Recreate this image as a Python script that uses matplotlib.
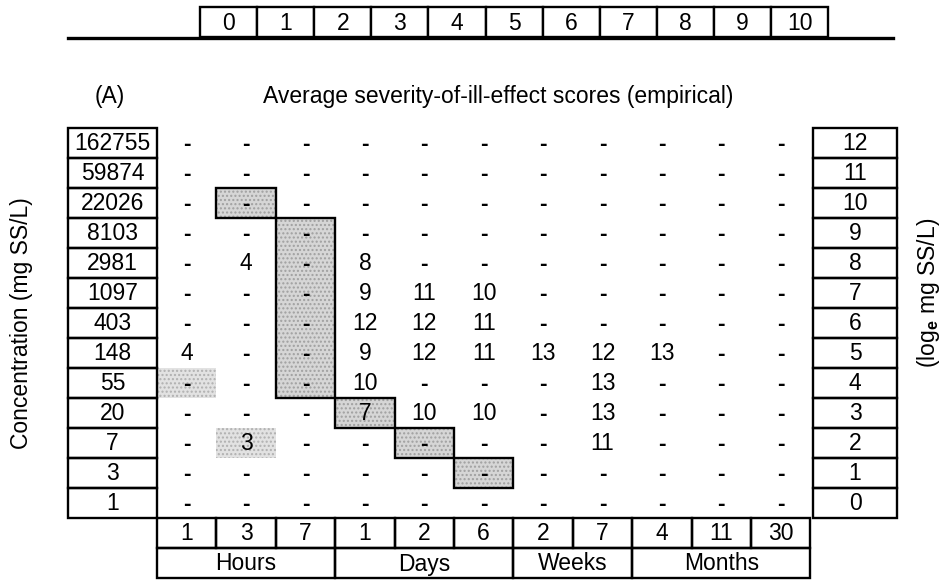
import matplotlib
matplotlib.use('Agg')
import matplotlib.pyplot as plt
from matplotlib.patches import Rectangle

plt.rcParams['font.family'] = ['Liberation Sans', 'DejaVu Sans']
plt.rcParams['mathtext.fontset'] = 'custom'
plt.rcParams['mathtext.rm'] = 'Liberation Sans'
plt.rcParams['mathtext.bf'] = 'Liberation Sans:bold'

# data
severity_scale = [str(i) for i in range(11)]
concentrations = ['162755', '59874', '22026', '8103', '2981', '1097', '403',
                  '148', '55', '20', '7', '3', '1']
log_conc = [str(i) for i in range(12, -1, -1)]
durations = ['1', '3', '7', '1', '2', '6', '2', '7', '4', '11', '30']
units = ['Hours', 'Days', 'Weeks', 'Months']
unit_span = [3, 3, 2, 3]   # columns per unit

# scores, rows = concentrations (top to bottom), cols = durations
scores = [
    ['-', '-', '-', '-', '-', '-', '-', '-', '-', '-', '-'],
    ['-', '-', '-', '-', '-', '-', '-', '-', '-', '-', '-'],
    ['-', '-', '-', '-', '-', '-', '-', '-', '-', '-', '-'],
    ['-', '-', '-', '-', '-', '-', '-', '-', '-', '-', '-'],
    ['-', '4', '-', '8', '-', '-', '-', '-', '-', '-', '-'],
    ['-', '-', '-', '9', '11', '10', '-', '-', '-', '-', '-'],
    ['-', '-', '-', '12', '12', '11', '-', '-', '-', '-', '-'],
    ['4', '-', '-', '9', '12', '11', '13', '12', '13', '-', '-'],
    ['-', '-', '-', '10', '-', '-', '-', '13', '-', '-', '-'],
    ['-', '-', '-', '7', '10', '10', '-', '13', '-', '-', '-'],
    ['-', '3', '-', '-', '-', '-', '-', '11', '-', '-', '-'],
    ['-', '-', '-', '-', '-', '-', '-', '-', '-', '-', '-'],
    ['-', '-', '-', '-', '-', '-', '-', '-', '-', '-', '-'],
]
# outlined shaded blocks: (col, first row, last row)
boxed = [(1, 2, 2), (2, 3, 8), (3, 9, 9), (4, 10, 10), (5, 11, 11)]
# lightly shaded cells without outline: (col, row)
faint = [(0, 8), (1, 10)]

# layout in pixels
W, H = 947, 582
X0, CW = 157, 59.4
Y0, RH = 128, 30
LB_L = 68
RB_L, RB_R = 813, 897
TB_L, TB_W, TB_T, TB_B = 200, 57.1, 7, 37
LW = 1.7
FS = 16.5

fig = plt.figure(figsize=(W / 100, H / 100), dpi=100)
ax = fig.add_axes([0, 0, 1, 1])
ax.set_xlim(0, W)
ax.set_ylim(H, 0)
ax.axis('off')

ncol = len(durations)
nrow = len(concentrations)


def box(x, y, w, h, **kw):
    ax.add_patch(Rectangle((x, y), w, h, fill=False, edgecolor='black', lw=LW, **kw))


# top scale
ax.plot([LB_L, 893], [TB_B + 1, TB_B + 1], color='black', lw=2.4)
for i, s in enumerate(severity_scale):
    x = TB_L + i * TB_W
    ax.add_patch(Rectangle((x, TB_T), TB_W, TB_B - TB_T, facecolor='white',
                           edgecolor='black', lw=LW, zorder=3))
    ax.text(x + TB_W / 2, (TB_T + TB_B) / 2 + 1, s, ha='center', va='center',
            fontsize=FS, zorder=4)

ax.text(110, 97, '(A)', ha='center', va='center', fontsize=FS)
ax.text(498, 97, 'Average severity-of-ill-effect scores (empirical)',
        ha='center', va='center', fontsize=FS)

# shading
for c, r in faint:
    ax.add_patch(Rectangle((X0 + c * CW, Y0 + r * RH), CW, RH, facecolor='#e2e2e2',
                           edgecolor='#b0b0b0', hatch='....', lw=0, zorder=1))
for c, r0, r1 in boxed:
    x, y, h = X0 + c * CW, Y0 + r0 * RH, (r1 - r0 + 1) * RH
    ax.add_patch(Rectangle((x, y), CW, h, facecolor='#d6d6d6',
                           edgecolor='#a0a0a0', hatch='....', lw=0, zorder=1))
    box(x, y, CW, h, zorder=2)

# cell values
for r, row in enumerate(scores):
    for c, v in enumerate(row):
        ax.text(X0 + (c + 0.5) * CW, Y0 + (r + 0.5) * RH + 1, v, ha='center',
                va='center', fontsize=FS, fontweight='bold' if v == '-' else 'normal',
                zorder=3)

# left and right concentration columns
for r in range(nrow):
    y = Y0 + r * RH
    box(LB_L, y, X0 - LB_L, RH)
    ax.text((LB_L + X0) / 2, y + RH / 2 + 1, concentrations[r], ha='center',
            va='center', fontsize=FS)
    box(RB_L, y, RB_R - RB_L, RH)
    ax.text((RB_L + RB_R) / 2, y + RH / 2 + 1, log_conc[r], ha='center',
            va='center', fontsize=FS)

# bottom duration rows
yb = Y0 + nrow * RH
for c, d in enumerate(durations):
    box(X0 + c * CW, yb, CW, RH)
    ax.text(X0 + (c + 0.5) * CW, yb + RH / 2 + 1, d, ha='center', va='center',
            fontsize=FS)
c0 = 0
for u, n in zip(units, unit_span):
    box(X0 + c0 * CW, yb + RH, n * CW, RH)
    ax.text(X0 + (c0 + n / 2) * CW, yb + 1.5 * RH + 1, u, ha='center',
            va='center', fontsize=FS)
    c0 += n

# axis titles
ax.text(22, Y0 + 6.5 * RH, 'Concentration (mg SS/L)', rotation=90,
        ha='center', va='center', fontsize=FS)
ax.text(928, Y0 + 5.5 * RH, r'(log$_{\mathbf{e}}$ mg SS/L)', rotation=90,
        ha='center', va='center', fontsize=FS)

fig.savefig('out.png', dpi=100)
